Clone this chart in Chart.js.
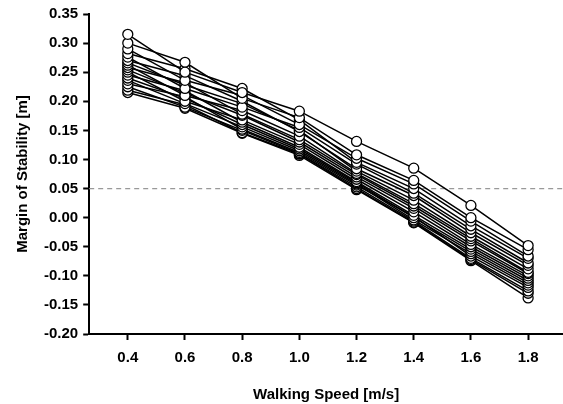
<!DOCTYPE html>
<html>
<head>
<meta charset="utf-8">
<script src="https://cdn.jsdelivr.net/npm/chart.js@4"></script>
<style>
  html, body { margin: 0; padding: 0; background: #fff; }
  #wrap { width: 563px; height: 404px; }
</style>
</head>
<body>
<div id="wrap"><canvas id="myChart" width="563" height="404"></canvas></div>
<script>
// walking speeds (m/s)
var speeds = [0.4, 0.6, 0.8, 1.0, 1.2, 1.4, 1.6, 1.8];
var xTickLabels = ['0.4', '0.6', '0.8', '1.0', '1.2', '1.4', '1.6', '1.8'];
var yTickLabels = ['-0.20', '-0.15', '-0.10', '-0.05', '0.00', '0.05', '0.10', '0.15', '0.20', '0.25', '0.30', '0.35'];
var threshold = 0.05;

// margin of stability per subject (m)
var s1  = [0.315, 0.250, 0.215, 0.183, 0.131, 0.085, 0.021, -0.048];
var s2  = [0.300, 0.267, 0.205, 0.172, 0.108, 0.064, 0.000, -0.055];
var s3  = [0.290, 0.236, 0.210, 0.160, 0.102, 0.058, -0.006, -0.066];
var s4  = [0.282, 0.256, 0.222, 0.168, 0.095, 0.050, -0.014, -0.070];
var s5  = [0.276, 0.222, 0.190, 0.155, 0.092, 0.042, -0.020, -0.078];
var s6  = [0.270, 0.244, 0.200, 0.148, 0.084, 0.038, -0.026, -0.082];
var s7  = [0.266, 0.228, 0.196, 0.150, 0.080, 0.030, -0.032, -0.088];
var s8  = [0.262, 0.210, 0.184, 0.140, 0.076, 0.024, -0.036, -0.094];
var s9  = [0.258, 0.232, 0.178, 0.134, 0.074, 0.020, -0.040, -0.096];
var s10 = [0.254, 0.214, 0.176, 0.130, 0.070, 0.016, -0.046, -0.100];
var s11 = [0.250, 0.200, 0.168, 0.126, 0.066, 0.010, -0.050, -0.104];
var s12 = [0.245, 0.218, 0.164, 0.121, 0.062, 0.004, -0.054, -0.108];
var s13 = [0.240, 0.205, 0.160, 0.118, 0.060, 0.000, -0.058, -0.112];
var s14 = [0.236, 0.196, 0.156, 0.115, 0.058, -0.004, -0.062, -0.116];
var s15 = [0.230, 0.208, 0.152, 0.112, 0.056, 0.002, -0.066, -0.120];
var s16 = [0.225, 0.190, 0.150, 0.110, 0.053, -0.006, -0.070, -0.126];
var s17 = [0.219, 0.194, 0.146, 0.109, 0.050, -0.008, -0.072, -0.130];
var s18 = [0.215, 0.188, 0.145, 0.107, 0.048, -0.009, -0.074, -0.138];

var subjects = [s1, s2, s3, s4, s5, s6, s7, s8, s9, s10, s11, s12, s13, s14, s15, s16, s17, s18];

var font = { family: "'Liberation Sans', Arial, sans-serif", size: 15, weight: 'bold' };

var datasets = subjects.map(function (vals, i) {
  return {
    label: 'Subject ' + (i + 1),
    data: vals.map(function (v, j) { return { x: speeds[j], y: v }; }),
    borderColor: '#000',
    borderWidth: 1.5,
    pointRadius: 5,
    pointBackgroundColor: '#fff',
    pointBorderColor: '#000',
    pointBorderWidth: 1.3,
    fill: false,
    tension: 0
  };
});

// dashed reference line
var refLine = {
  id: 'refLine',
  beforeDatasetsDraw: function (chart) {
    var c = chart.ctx, a = chart.chartArea;
    var y = chart.scales.y.getPixelForValue(threshold);
    c.save();
    c.strokeStyle = '#999';
    c.lineWidth = 1.2;
    c.setLineDash([5, 4]);
    c.beginPath();
    c.moveTo(a.left, y);
    c.lineTo(a.right, y);
    c.stroke();
    c.restore();
  }
};

var ctx = document.getElementById('myChart').getContext('2d');
var chart = new Chart(ctx, {
  type: 'line',
  data: { datasets: datasets },
  options: {
    responsive: false,
    animation: false,
    layout: { autoPadding: false, padding: { top: 5, right: 0, left: 4, bottom: 0 } },
    plugins: { legend: { display: false }, tooltip: { enabled: false } },
    scales: {
      x: {
        type: 'linear',
        min: 0.265,
        max: 1.922,
        afterBuildTicks: function (axis) {
          axis.ticks = speeds.map(function (v) { return { value: v }; });
        },
        ticks: {
          color: '#000', font: font, padding: 9, maxRotation: 0, autoSkip: false,
          callback: function (v) { return xTickLabels[speeds.indexOf(Math.round(v * 10) / 10)]; }
        },
        grid: { drawOnChartArea: false, tickLength: 6, tickColor: '#000', tickWidth: 2 },
        border: { color: '#000', width: 2 },
        title: { display: true, text: 'Walking Speed [m/s]', color: '#000', font: font, padding: { top: 10, bottom: 0 } }
      },
      y: {
        min: -0.2,
        max: 0.35,
        afterBuildTicks: function (axis) {
          axis.ticks = yTickLabels.map(function (t) { return { value: parseFloat(t) }; });
        },
        ticks: {
          color: '#000', font: font, padding: 5, autoSkip: false,
          callback: function (v, i) { return yTickLabels[i]; }
        },
        grid: { drawOnChartArea: false, tickLength: 6, tickColor: '#000', tickWidth: 2 },
        border: { color: '#000', width: 2 },
        title: { display: true, text: 'Margin of Stability [m]', color: '#000', font: font, padding: { top: 10, bottom: 7 } }
      }
    }
  },
  plugins: [refLine]
});
</script>
</body>
</html>
